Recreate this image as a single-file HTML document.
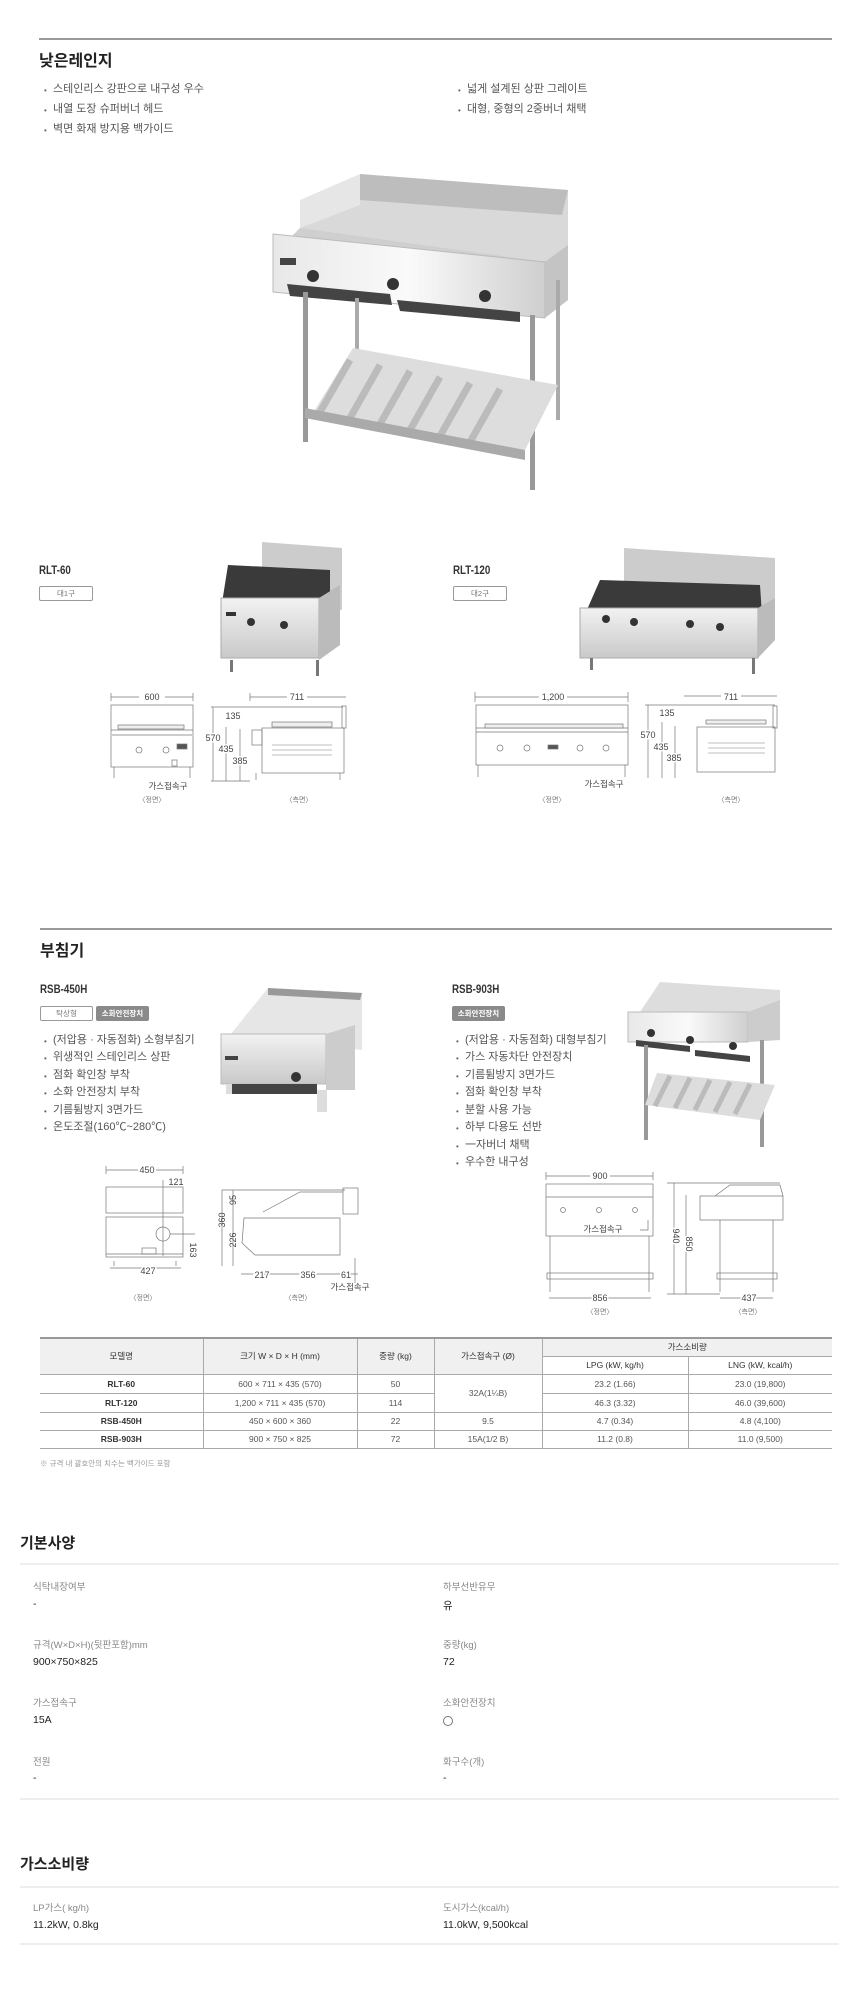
<!DOCTYPE html>
<html><head><meta charset="utf-8">
<style>
*{margin:0;padding:0;box-sizing:border-box}
body{width:860px;height:1995px;background:#fff;position:relative;overflow:hidden;font-family:"Liberation Sans","Noto Sans CJK KR",sans-serif;color:#333}
.a{position:absolute;white-space:nowrap}
.h1{font-size:15px;font-weight:bold;color:#222}
.bl{font-size:11px;color:#555;line-height:11px}
.bl:before{content:"•";font-size:8px;color:#666;position:absolute;left:-9px;top:1px}
.md{font-size:11.5px;font-weight:bold;color:#333;transform:scaleX(.85);transform-origin:left}
.bd{font-size:7.5px;height:15px;line-height:13px;text-align:center;border:1px solid #999;border-radius:2px;color:#777}
.bd.g{background:#8a8a8a;border-color:#8a8a8a;color:#fff;font-weight:bold}
.cap{font-size:7.5px;color:#777}
table{border-collapse:collapse;position:absolute;left:40px;top:1337px;width:792px;font-size:8.5px;color:#555;border-top:2px solid #999;border-bottom:1px solid #999}
td,th{border:1px solid #aaa;border-top:1px solid #ddd;text-align:center;font-weight:normal}
th{background:#f0f0f0;color:#333}
td:first-child,th:first-child{border-left:none}
td:last-child,th:last-child{border-right:none}
tr td.m{font-weight:bold;color:#333}
.sl{font-size:9.5px;color:#888}
.sv{font-size:10.5px;color:#222}
.hr{position:absolute;left:20px;width:819px;height:2px;background:#eee}
</style></head><body>

<div class="a" style="left:39px;top:38px;width:793px;height:2px;background:#999"></div>
<div class="a h1" style="left:39px;top:47px;font-size:16px">낮은레인지</div>
<div class="a bl" style="left:53px;top:84px">스테인리스 강판으로 내구성 우수</div>
<div class="a bl" style="left:53px;top:104px">내열 도장 슈퍼버너 헤드</div>
<div class="a bl" style="left:53px;top:124px">벽면 화재 방지용 백가이드</div>
<div class="a bl" style="left:467px;top:84px">넓게 설계된 상판 그레이트</div>
<div class="a bl" style="left:467px;top:104px">대형, 중형의 2중버너 채택</div>

<div class="a md" style="left:39px;top:565px">RLT-60</div>
<div class="a bd" style="left:39px;top:586px;width:54px">대1구</div>
<div class="a md" style="left:453px;top:565px">RLT-120</div>
<div class="a bd" style="left:453px;top:586px;width:54px">대2구</div>

<div class="a" style="left:40px;top:928px;width:792px;height:2px;background:#999"></div>
<div class="a h1" style="left:40px;top:937px;font-size:16px">부침기</div>

<div class="a md" style="left:40px;top:984px">RSB-450H</div>
<div class="a bd" style="left:40px;top:1006px;width:53px">탁상형</div>
<div class="a bd g" style="left:96px;top:1006px;width:53px">소화안전장치</div>
<div class="a bl" style="left:53px;top:1035px">(저압용 · 자동점화) 소형부침기</div>
<div class="a bl" style="left:53px;top:1052px">위생적인 스테인리스 상판</div>
<div class="a bl" style="left:53px;top:1070px">점화 확인창 부착</div>
<div class="a bl" style="left:53px;top:1087px">소화 안전장치 부착</div>
<div class="a bl" style="left:53px;top:1105px">기름튐방지 3면가드</div>
<div class="a bl" style="left:53px;top:1122px">온도조절(160℃~280℃)</div>

<div class="a md" style="left:452px;top:984px">RSB-903H</div>
<div class="a bd g" style="left:452px;top:1006px;width:53px">소화안전장치</div>
<div class="a bl" style="left:465px;top:1035px">(저압용 · 자동점화) 대형부침기</div>
<div class="a bl" style="left:465px;top:1052px">가스 자동차단 안전장치</div>
<div class="a bl" style="left:465px;top:1070px">기름튐방지 3면가드</div>
<div class="a bl" style="left:465px;top:1087px">점화 확인창 부착</div>
<div class="a bl" style="left:465px;top:1105px">분할 사용 가능</div>
<div class="a bl" style="left:465px;top:1122px">하부 다용도 선반</div>
<div class="a bl" style="left:465px;top:1140px">一자버너 채택</div>
<div class="a bl" style="left:465px;top:1157px">우수한 내구성</div>

<svg class="a" style="left:0;top:0" width="860" height="1330" font-family="Liberation Sans, Noto Sans CJK KR, sans-serif">
<defs>
<linearGradient id="st" x1="0" y1="0" x2="0" y2="1"><stop offset="0" stop-color="#f2f2f2"/><stop offset="1" stop-color="#c9c9c9"/></linearGradient>
<linearGradient id="st2" x1="0" y1="0" x2="1" y2="0"><stop offset="0" stop-color="#e8e8e8"/><stop offset=".5" stop-color="#fafafa"/><stop offset="1" stop-color="#cfcfcf"/></linearGradient>
</defs>
<!-- main grill -->
<g>
<polygon points="360,174 568,190 568,258 548,280 302,230 300,228" fill="#d9d9d9"/>
<polygon points="360,174 568,190 562,215 360,200" fill="#bdbdbd"/>
<polygon points="300,200 360,174 360,205 300,228" fill="#e6e6e6"/>
<polygon points="300,228 545,262 540,270 292,236" fill="#cfcfcf"/>
<polygon points="273,234 545,262 545,318 273,292" fill="url(#st2)" stroke="#bbb"/>
<polygon points="545,262 568,245 568,300 545,318" fill="#c4c4c4"/>
<rect x="280" y="258" width="16" height="7" fill="#444"/>
<circle cx="313" cy="276" r="6" fill="#333"/><circle cx="393" cy="284" r="6" fill="#333"/><circle cx="485" cy="296" r="6" fill="#333"/>
<polygon points="287,284 390,294 392,305 290,296" fill="#444"/>
<polygon points="397,300 520,312 520,322 400,311" fill="#444"/>
<rect x="303" y="292" width="5" height="150" fill="#999"/><rect x="530" y="315" width="5" height="175" fill="#999"/>
<rect x="355" y="298" width="4" height="120" fill="#aaa"/><rect x="556" y="280" width="4" height="140" fill="#aaa"/>
<polygon points="353,348 558,385 522,456 313,413" fill="#ddd"/>
<g stroke="#bbb" stroke-width="7"><line x1="350" y1="360" x2="320" y2="412"/><line x1="380" y1="365" x2="350" y2="418"/><line x1="410" y1="371" x2="380" y2="424"/><line x1="440" y1="377" x2="410" y2="430"/><line x1="470" y1="383" x2="440" y2="436"/><line x1="500" y1="389" x2="470" y2="442"/></g>
<polygon points="305,408 525,450 525,460 305,418" fill="#aaa"/>
</g>
<!-- RLT-60 img -->
<g>
<polygon points="262,542 342,548 342,610 262,600" fill="#ccc"/>
<polygon points="228,565 330,570 330,608 222,603" fill="#3a3a3a"/>
<rect x="221" y="598" width="98" height="60" fill="url(#st)" stroke="#aaa"/>
<polygon points="319,598 340,585 340,645 319,660" fill="#bbb"/>
<circle cx="251" cy="622" r="4" fill="#333"/><circle cx="284" cy="625" r="4" fill="#333"/>
<rect x="226" y="612" width="10" height="4" fill="#333"/>
<rect x="230" y="660" width="3" height="12" fill="#777"/><rect x="316" y="660" width="3" height="16" fill="#777"/>
</g>
<!-- RLT-120 img -->
<g>
<polygon points="624,548 775,558 775,615 624,600" fill="#ccc"/>
<polygon points="600,580 760,585 762,615 586,612" fill="#3a3a3a"/>
<rect x="580" y="608" width="178" height="50" fill="url(#st)" stroke="#aaa"/>
<polygon points="758,608 775,598 775,640 758,658" fill="#bbb"/>
<circle cx="606" cy="619" r="4" fill="#333"/><circle cx="634" cy="622" r="4" fill="#333"/><circle cx="690" cy="624" r="4" fill="#333"/><circle cx="720" cy="627" r="4" fill="#333"/>
<rect x="590" y="658" width="3" height="12" fill="#777"/><rect x="752" y="658" width="3" height="16" fill="#777"/>
</g>
<!-- drawings RLT-60 -->
<g stroke="#777" stroke-width="0.7" fill="none" font-size="9" >
<line x1="111" y1="697" x2="193" y2="697"/><line x1="111" y1="693" x2="111" y2="701"/><line x1="193" y1="693" x2="193" y2="701"/>
<rect x="111" y="705" width="82" height="62"/><line x1="111" y1="730" x2="193" y2="730"/><line x1="112" y1="735" x2="192" y2="735"/>
<rect x="118" y="725" width="66" height="4" fill="#eee"/>
<circle cx="139" cy="750" r="3"/><circle cx="166" cy="750" r="3"/><rect x="177" y="744" width="10" height="5" fill="#555"/>
<line x1="114" y1="767" x2="114" y2="778"/><line x1="190" y1="767" x2="190" y2="778"/><rect x="172" y="760" width="5" height="6"/>
<line x1="213" y1="707" x2="213" y2="781"/><line x1="226" y1="727" x2="226" y2="781"/><line x1="240" y1="729" x2="240" y2="781"/><line x1="211" y1="707" x2="343" y2="707"/><line x1="211" y1="781" x2="250" y2="781"/>
<line x1="250" y1="697" x2="346" y2="697"/><line x1="250" y1="693" x2="250" y2="701"/>
<rect x="262" y="728" width="82" height="45"/><rect x="342" y="706" width="4" height="22"/><rect x="252" y="730" width="10" height="15"/><rect x="272" y="722" width="60" height="5" fill="#eee"/>
<g stroke="#aaa"><line x1="272" y1="745" x2="332" y2="745"/><line x1="272" y1="750" x2="332" y2="750"/><line x1="272" y1="755" x2="332" y2="755"/></g>
<line x1="256" y1="773" x2="256" y2="780"/><line x1="340" y1="773" x2="340" y2="780"/>
</g>
<g font-size="9" fill="#444" text-anchor="middle">
<rect x="139" y="690" width="26" height="12" fill="#fff"/><text x="152" y="700">600</text>
<rect x="287" y="690" width="20" height="12" fill="#fff"/><text x="297" y="700">711</text>
<text x="233" y="719">135</text><text x="213" y="741" fill="#444" stroke="#fff" stroke-width="3" paint-order="stroke">570</text><text x="226" y="752" stroke="#fff" stroke-width="3" paint-order="stroke">435</text><text x="240" y="764" stroke="#fff" stroke-width="3" paint-order="stroke">385</text>
<text x="168" y="789" font-size="8.5">가스접속구</text>
<text x="152" y="802" font-size="7" fill="#777">〈정면〉</text><text x="299" y="802" font-size="7" fill="#777">〈측면〉</text>
</g>
<!-- drawings RLT-120 -->
<g stroke="#777" stroke-width="0.7" fill="none">
<line x1="475" y1="697" x2="628" y2="697"/><line x1="475" y1="692" x2="475" y2="702"/><line x1="628" y1="692" x2="628" y2="702"/>
<rect x="476" y="705" width="152" height="60"/><line x1="476" y1="728" x2="628" y2="728"/><line x1="476" y1="732" x2="628" y2="732"/>
<rect x="485" y="724" width="138" height="4" fill="#eee"/>
<circle cx="500" cy="748" r="3"/><circle cx="527" cy="748" r="3"/><circle cx="580" cy="748" r="3"/><circle cx="606" cy="748" r="3"/><rect x="548" y="745" width="10" height="4" fill="#555"/>
<line x1="478" y1="765" x2="478" y2="777"/><line x1="625" y1="765" x2="625" y2="777"/>
<line x1="648" y1="705" x2="648" y2="778"/><line x1="662" y1="722" x2="662" y2="778"/><line x1="675" y1="726" x2="675" y2="778"/><line x1="645" y1="705" x2="775" y2="705"/>
<line x1="684" y1="696" x2="777" y2="696"/>
<rect x="697" y="727" width="78" height="45"/><rect x="773" y="706" width="4" height="22"/><rect x="706" y="720" width="60" height="4" fill="#eee"/>
<g stroke="#aaa"><line x1="708" y1="743" x2="765" y2="743"/><line x1="708" y1="748" x2="765" y2="748"/><line x1="708" y1="753" x2="765" y2="753"/></g>
</g>
<g font-size="9" fill="#444" text-anchor="middle">
<rect x="539" y="690" width="28" height="12" fill="#fff"/><text x="553" y="700">1,200</text>
<rect x="721" y="690" width="20" height="12" fill="#fff"/><text x="731" y="700">711</text>
<text x="667" y="716">135</text><text x="648" y="738" stroke="#fff" stroke-width="3" paint-order="stroke">570</text><text x="661" y="750" stroke="#fff" stroke-width="3" paint-order="stroke">435</text><text x="674" y="761" stroke="#fff" stroke-width="3" paint-order="stroke">385</text>
<text x="604" y="787" font-size="8.5">가스접속구</text>
<text x="552" y="802" font-size="7" fill="#777">〈정면〉</text><text x="731" y="802" font-size="7" fill="#777">〈측면〉</text>
</g>
<!-- RSB-450H img -->
<g>
<polygon points="268,988 362,993 362,1050 230,1035" fill="#e6e6e6"/>
<polygon points="268,988 362,993 360,1000 268,995" fill="#999"/>
<rect x="221" y="1034" width="105" height="50" fill="url(#st)" stroke="#bbb"/>
<polygon points="326,1034 355,1025 355,1090 326,1090" fill="#ccc"/>
<rect x="225" y="1056" width="13" height="4" fill="#444"/>
<circle cx="296" cy="1077" r="5" fill="#333"/>
<rect x="232" y="1084" width="85" height="10" fill="#444"/>
<rect x="226" y="1084" width="6" height="10" fill="#ddd"/><rect x="317" y="1090" width="10" height="22" fill="#ddd"/>
</g>
<!-- RSB-450H drawings -->
<g stroke="#777" stroke-width="0.7" fill="none">
<line x1="106" y1="1170" x2="183" y2="1170"/><line x1="106" y1="1166" x2="106" y2="1174"/><line x1="183" y1="1166" x2="183" y2="1174"/>
<rect x="106" y="1187" width="77" height="26"/><rect x="106" y="1217" width="77" height="40"/><line x1="106" y1="1254" x2="183" y2="1254"/>
<circle cx="163" cy="1234" r="7"/><line x1="163" y1="1180" x2="163" y2="1256"/><line x1="170" y1="1234" x2="195" y2="1234"/>
<rect x="142" y="1248" width="14" height="6"/><line x1="114" y1="1261" x2="114" y2="1266"/><line x1="176" y1="1261" x2="176" y2="1266"/>
<line x1="110" y1="1268" x2="181" y2="1268"/>
<line x1="222" y1="1190" x2="222" y2="1266"/><line x1="233" y1="1190" x2="233" y2="1266"/><line x1="222" y1="1190" x2="345" y2="1190"/>
<path d="M244,1218 H340 V1255 H255 L242,1243 Z"/><rect x="343" y="1188" width="15" height="26"/><polyline points="263,1212 300,1192 343,1192"/>
<line x1="241" y1="1274" x2="358" y2="1274"/><line x1="355" y1="1258" x2="355" y2="1283"/>
</g>
<g font-size="9" fill="#444" text-anchor="middle">
<rect x="138" y="1163" width="18" height="12" fill="#fff"/><text x="147" y="1173">450</text>
<text x="176" y="1185">121</text>
<text x="148" y="1274" stroke="#fff" stroke-width="3" paint-order="stroke">427</text>
<text x="193" y="1253" transform="rotate(90 193 1250)">163</text>
<text x="225" y="1220" transform="rotate(-90 225 1220)">360</text><text x="236" y="1200" transform="rotate(-90 236 1200)">95</text><text x="236" y="1240" transform="rotate(-90 236 1240)">226</text>
<text x="262" y="1278" stroke="#fff" stroke-width="3" paint-order="stroke">217</text><text x="308" y="1278" stroke="#fff" stroke-width="3" paint-order="stroke">356</text><text x="346" y="1278" stroke="#fff" stroke-width="3" paint-order="stroke">61</text>
<text x="350" y="1290" font-size="8.5">가스접속구</text>
<text x="143" y="1300" font-size="7" fill="#777">〈정면〉</text><text x="298" y="1300" font-size="7" fill="#777">〈측면〉</text>
</g>
<!-- RSB-903H img -->
<g>
<polygon points="660,982 780,990 780,1030 640,1012" fill="#ddd"/>
<rect x="628" y="1012" width="120" height="30" fill="url(#st2)" stroke="#bbb"/>
<polygon points="748,1012 780,1000 780,1040 748,1042" fill="#ccc"/>
<circle cx="651" cy="1033" r="4" fill="#333"/><circle cx="690" cy="1040" r="4" fill="#333"/><circle cx="733" cy="1046" r="4" fill="#333"/>
<polygon points="636,1040 690,1046 690,1052 636,1046" fill="#444"/><polygon points="695,1050 750,1056 750,1062 695,1056" fill="#444"/>
<rect x="644" y="1045" width="4" height="95" fill="#999"/><rect x="760" y="1040" width="4" height="107" fill="#999"/>
<polygon points="657,1073 775,1085 760,1120 645,1105" fill="#ddd"/>
<g stroke="#bbb" stroke-width="5"><line x1="670" y1="1076" x2="655" y2="1106"/><line x1="690" y1="1078" x2="675" y2="1108"/><line x1="710" y1="1080" x2="695" y2="1110"/><line x1="730" y1="1082" x2="715" y2="1112"/><line x1="750" y1="1084" x2="735" y2="1114"/></g>
</g>
<!-- RSB-903H drawings -->
<g stroke="#777" stroke-width="0.7" fill="none">
<line x1="546" y1="1176" x2="653" y2="1176"/><line x1="546" y1="1172" x2="546" y2="1180"/><line x1="653" y1="1172" x2="653" y2="1180"/>
<rect x="546" y="1184" width="107" height="52"/><line x1="546" y1="1197" x2="653" y2="1197"/>
<circle cx="563" cy="1210" r="2.5"/><circle cx="599" cy="1210" r="2.5"/><circle cx="635" cy="1210" r="2.5"/>
<line x1="550" y1="1236" x2="550" y2="1292"/><line x1="649" y1="1236" x2="649" y2="1292"/><rect x="547" y="1273" width="106" height="6"/>
<line x1="549" y1="1298" x2="651" y2="1298"/><polyline points="648,1220 648,1230 640,1230"/>
<line x1="674" y1="1183" x2="674" y2="1294"/><line x1="686" y1="1195" x2="686" y2="1294"/><line x1="667" y1="1183" x2="780" y2="1183"/><line x1="667" y1="1294" x2="720" y2="1294"/>
<path d="M700,1196 H783 V1220 H700 Z"/><polyline points="715,1196 730,1185 780,1185 783,1196"/>
<line x1="720" y1="1220" x2="720" y2="1292"/><line x1="773" y1="1220" x2="773" y2="1292"/><rect x="717" y="1273" width="60" height="6"/>
<line x1="720" y1="1298" x2="773" y2="1298"/>
</g>
<g font-size="9" fill="#444" text-anchor="middle">
<rect x="590" y="1169" width="20" height="12" fill="#fff"/><text x="600" y="1179">900</text>
<text x="603" y="1232" font-size="8.5">가스접속구</text>
<text x="673" y="1236" transform="rotate(90 673 1236)" stroke="#fff" stroke-width="3" paint-order="stroke">940</text>
<text x="686" y="1244" transform="rotate(90 686 1244)" stroke="#fff" stroke-width="3" paint-order="stroke">850</text>
<text x="600" y="1301" stroke="#fff" stroke-width="3" paint-order="stroke">856</text>
<text x="749" y="1301" stroke="#fff" stroke-width="3" paint-order="stroke">437</text>
<text x="600" y="1314" font-size="7" fill="#777">〈정면〉</text><text x="748" y="1314" font-size="7" fill="#777">〈측면〉</text>
</g>
</svg>

<table>
<colgroup><col style="width:163px"><col style="width:154px"><col style="width:77px"><col style="width:108px"><col style="width:146px"><col style="width:144px"></colgroup>
<tr style="height:18px"><th rowspan="2">모델명</th><th rowspan="2">크기 W × D × H (mm)</th><th rowspan="2">중량 (kg)</th><th rowspan="2">가스접속구 (Ø)</th><th colspan="2">가스소비량</th></tr>
<tr style="height:18px"><th style="background:#fff">LPG (kW, kg/h)</th><th style="background:#fff">LNG (kW, kcal/h)</th></tr>
<tr style="height:19px"><td class="m">RLT-60</td><td>600 × 711 × 435 (570)</td><td>50</td><td rowspan="2">32A(1¼B)</td><td>23.2 (1.66)</td><td>23.0 (19,800)</td></tr>
<tr style="height:19px"><td class="m">RLT-120</td><td>1,200 × 711 × 435 (570)</td><td>114</td><td>46.3 (3.32)</td><td>46.0 (39,600)</td></tr>
<tr style="height:18px"><td class="m">RSB-450H</td><td>450 × 600 × 360</td><td>22</td><td>9.5</td><td>4.7 (0.34)</td><td>4.8 (4,100)</td></tr>
<tr style="height:18px"><td class="m">RSB-903H</td><td>900 × 750 × 825</td><td>72</td><td>15A(1/2 B)</td><td>11.2 (0.8)</td><td>11.0 (9,500)</td></tr>
</table>
<div class="a" style="left:40px;top:1458px;font-size:7.5px;color:#999">※ 규격 내 괄호안의 치수는 백가이드 포함</div>

<div class="a h1" style="left:20px;top:1532px">기본사양</div>
<div class="hr" style="top:1563px"></div>
<div class="a sl" style="left:33px;top:1579px">식탁내장여부</div><div class="a sv" style="left:33px;top:1598px">-</div>
<div class="a sl" style="left:443px;top:1579px">하부선반유무</div><div class="a sv" style="left:443px;top:1598px">유</div>
<div class="a sl" style="left:33px;top:1637px">규격(W×D×H)(뒷판포함)mm</div><div class="a sv" style="left:33px;top:1656px">900×750×825</div>
<div class="a sl" style="left:443px;top:1637px">중량(kg)</div><div class="a sv" style="left:443px;top:1656px">72</div>
<div class="a sl" style="left:33px;top:1695px">가스접속구</div><div class="a sv" style="left:33px;top:1714px">15A</div>
<div class="a sl" style="left:443px;top:1695px">소화안전장치</div><div class="a" style="left:443px;top:1716px;width:10px;height:10px;border:1px solid #777;border-radius:50%"></div>
<div class="a sl" style="left:33px;top:1754px">전원</div><div class="a sv" style="left:33px;top:1772px">-</div>
<div class="a sl" style="left:443px;top:1754px">화구수(개)</div><div class="a sv" style="left:443px;top:1772px">-</div>
<div class="hr" style="top:1798px"></div>

<div class="a h1" style="left:20px;top:1853px">가스소비량</div>
<div class="hr" style="top:1886px"></div>
<div class="a sl" style="left:33px;top:1900px">LP가스( kg/h)</div><div class="a sv" style="left:33px;top:1919px">11.2kW, 0.8kg</div>
<div class="a sl" style="left:443px;top:1900px">도시가스(kcal/h)</div><div class="a sv" style="left:443px;top:1919px">11.0kW, 9,500kcal</div>
<div class="hr" style="top:1943px"></div>
</body></html>
